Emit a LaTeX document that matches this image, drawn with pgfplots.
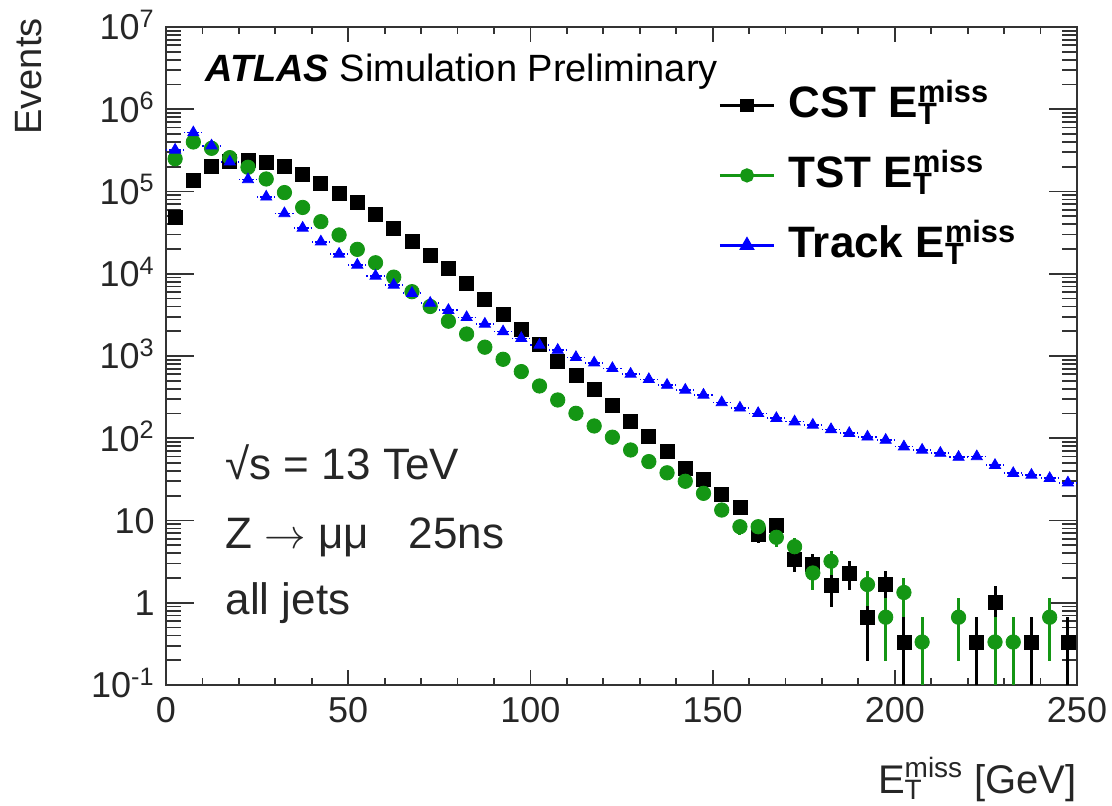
\documentclass[border=0pt]{standalone}
\usepackage{fontspec}
\setmainfont{Liberation Sans}
\usepackage{pgfplots}
\usepackage{pgfplotstable}
\pgfplotsset{compat=1.18}
\definecolor{rootgreen}{RGB}{20,150,20}
\newcommand{\met}{E\rlap{\textsubscript{T}}\textsuperscript{miss}}

% CST: x y err+ err-
\pgfplotstableread{
x y ep em
2.5 49000 0 0
7.5 138000 0 0
12.5 200000 0 0
17.5 230000 0 0
22.5 240000 0 0
27.5 227000 0 0
32.5 200000 0 0
37.5 163000 0 0
42.5 126000 0 0
47.5 95000 0 0
52.5 73000 0 0
57.5 52000 0 0
62.5 36000 0 0
67.5 25000 0 0
72.5 16900 0 0
77.5 11600 0 0
82.5 7650 0 0
87.5 4900 0 0
92.5 3200 0 0
97.5 2100 0 0
102.5 1380 0 0
107.5 853 0 0
112.5 587 0 0
117.5 394 0 0
122.5 254 9.2 9.2
127.5 159 7.3 7.3
132.5 104 5.9 5.9
137.5 69 4.8 4.8
142.5 43 3.8 3.8
147.5 32 3.3 3.3
152.5 21 2.6 2.6
157.5 14.5 2.2 2.2
162.5 6.8 1.5 1.5
167.5 8.8 1.7 1.7
172.5 3.4 1.06 1.06
177.5 2.9 0.98 0.98
182.5 1.64 0.74 0.74
187.5 2.3 0.88 0.88
192.5 0.667 0.471 0.471
197.5 1.667 0.745 0.745
202.5 0.333 0.333 0.33
222.5 0.333 0.333 0.33
227.5 1.0 0.577 0.577
237.5 0.333 0.333 0.33
247.5 0.333 0.333 0.33
}\cst

% TST
\pgfplotstableread{
x y ep em
2.5 250000 0 0
7.5 400000 0 0
12.5 335000 0 0
17.5 258000 0 0
22.5 197000 0 0
27.5 142000 0 0
32.5 97000 0 0
37.5 64000 0 0
42.5 43000 0 0
47.5 29600 0 0
52.5 19800 0 0
57.5 13600 0 0
62.5 9100 0 0
67.5 6050 0 0
72.5 4000 0 0
77.5 2650 0 0
82.5 1850 0 0
87.5 1280 0 0
92.5 912 0 0
97.5 646 0 0
102.5 432 0 0
107.5 292 0 0
112.5 201 0 0
117.5 141 0 0
122.5 103 5.9 5.9
127.5 72 4.9 4.9
132.5 52 4.2 4.2
137.5 38 3.6 3.6
142.5 30 3.2 3.2
147.5 21.4 2.7 2.7
152.5 13.4 2.1 2.1
157.5 8.4 1.7 1.7
162.5 8.4 1.7 1.7
167.5 6.25 1.44 1.44
172.5 4.8 1.26 1.26
177.5 2.3 0.88 0.88
182.5 3.2 1.03 1.03
192.5 1.667 0.745 0.745
197.5 0.667 0.471 0.471
202.5 1.333 0.667 0.667
207.5 0.333 0.333 0.33
217.5 0.667 0.471 0.471
227.5 0.333 0.333 0.33
232.5 0.333 0.333 0.33
242.5 0.667 0.471 0.471
}\tst

% Track
\pgfplotstableread{
x y
2.5 320000
7.5 520000
12.5 360000
17.5 230000
22.5 140000
27.5 86000
32.5 54000
37.5 36000
42.5 24500
47.5 17400
52.5 12800
57.5 9400
62.5 7300
67.5 5800
72.5 4400
77.5 3600
82.5 2950
87.5 2450
92.5 1980
97.5 1640
102.5 1360
107.5 1180
112.5 964
117.5 828
122.5 708
127.5 604
132.5 520
137.5 443
142.5 386
147.5 336
152.5 272
157.5 234
162.5 201
167.5 175
172.5 159
177.5 145
182.5 128
187.5 115
192.5 104
197.5 95
202.5 79
207.5 72
212.5 66
217.5 59
222.5 60
227.5 47
232.5 37.5
237.5 35.7
242.5 32.6
247.5 28.8
}\trk

\begin{document}
\begin{tikzpicture}
\path[use as bounding box] (-83pt,-60.5pt) rectangle (473pt,342.5pt);
\begin{axis}[
    at={(0,0)}, anchor=south west,
    scale only axis, width=455.5pt, height=329pt,
    ymode=log, xmin=0, xmax=250, ymin=0.1, ymax=1e7,
    xtick={0,50,...,250}, minor x tick num=4,
    ytick={0.1,1,10,100,1000,10000,100000,1000000,10000000},
    yticklabels={10\textsuperscript{-1},1,10,10\textsuperscript{2},10\textsuperscript{3},10\textsuperscript{4},10\textsuperscript{5},10\textsuperscript{6},10\textsuperscript{7}},
    minor ytick={0.2,0.3,0.4,0.5,0.6,0.7,0.8,0.9,2,3,4,5,6,7,8,9,20,30,40,50,60,70,80,90,200,300,400,500,600,700,800,900,2000,3000,4000,5000,6000,7000,8000,9000,20000,30000,40000,50000,60000,70000,80000,90000,200000,300000,400000,500000,600000,700000,800000,900000,2000000,3000000,4000000,5000000,6000000,7000000,8000000,9000000},
    /pgf/number format/assume math mode=true,
    tick align=inside,
    axis line style={line width=1.1pt, black!80},
    every tick/.style={black!80, line width=0.9pt},
    xtick style={/pgfplots/major tick length=7.5pt, /pgfplots/minor tick length=3.7pt},
    ytick style={/pgfplots/major tick length=14pt, /pgfplots/minor tick length=7.5pt},
    tick label style={font=\fontsize{18}{20}\selectfont, black!85},
    xticklabel style={anchor=north, inner sep=0pt, yshift=-6pt},
    yticklabel style={anchor=base east, inner sep=0pt, xshift=-5.5pt, yshift=-6.4pt},
    xlabel={\met{} [GeV]},
    xlabel style={at={(axis description cs:1,0)}, anchor=base east, inner sep=0pt, yshift=-54pt, font=\fontsize{20}{22}\selectfont, black!85},
    ylabel={Events},
    ylabel style={at={(axis description cs:-0.151,1.0137)}, anchor=east, inner sep=0pt, font=\fontsize{19}{21}\selectfont, black!85},
    legend style={at={(rel axis cs:0.606,0.924)}, anchor=north west, draw=none, fill=none, inner sep=0pt,
        font=\bfseries\fontsize{22}{26}\selectfont,
        nodes={inner sep=0pt, text height=20pt, text depth=8pt},
        row sep=7pt},
    legend cell align=left,
    legend image code/.code={%
        \draw[mark repeat=2,mark phase=2,#1] plot coordinates {(0pt,0pt) (13.5pt,0pt) (27pt,0pt)};
        \path (33.5pt,0pt);},
]
\addplot[black, only marks, mark=square*, mark size=3.5pt, forget plot,
    error bars/.cd, y dir=both, y explicit, error bar style={line width=1.5pt, black}, error mark=none]
    table[x=x, y=y, y error plus=ep, y error minus=em] {\cst};
\addplot[rootgreen, only marks, mark=*, mark size=3.6pt, forget plot,
    error bars/.cd, y dir=both, y explicit, error bar style={line width=1.5pt, rootgreen}, error mark=none]
    table[x=x, y=y, y error plus=ep, y error minus=em] {\tst};
\addplot[blue, only marks, mark=triangle*, mark size=3.2pt, forget plot,
    error bars/.cd, x dir=both, x fixed=2.5, error bar style={line width=0.8pt, blue, densely dashdotted}, error mark=none]
    table[x=x, y=y] {\trk};
\addlegendimage{black, line width=1.5pt, mark=square*, mark size=2.6pt}
\addlegendentry{CST \met}
\addlegendimage{rootgreen, line width=1.5pt, mark=*, mark size=2.8pt}
\addlegendentry{TST \met}
\addlegendimage{blue, line width=1.5pt, mark=triangle*, mark size=3pt}
\addlegendentry{Track \met}
\node[anchor=base west, inner sep=0pt, font=\fontsize{19}{22}\selectfont]
    at (rel axis cs:0.0428,0.917) {\textbf{\textit{ATLAS}} Simulation Preliminary};
\node[anchor=base west, inner sep=0pt, font=\fontsize{22}{26}\selectfont, black!85]
    at (rel axis cs:0.065,0.3116) {√s = 13 TeV};
\node[anchor=base west, inner sep=0pt, font=\fontsize{22}{26}\selectfont, black!85]
    at (rel axis cs:0.065,0.2077) {Z $\rightarrow$ μμ\hspace{0.9em}25ns};
\node[anchor=base west, inner sep=0pt, font=\fontsize{22}{26}\selectfont, black!85]
    at (rel axis cs:0.065,0.1064) {all jets};
\end{axis}
\end{tikzpicture}
\end{document}
